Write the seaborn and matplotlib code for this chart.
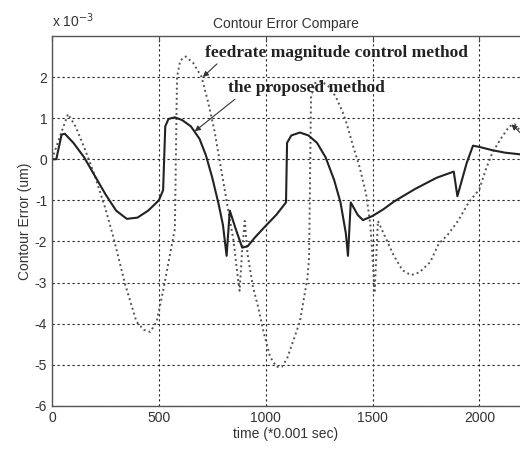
"""Contour error comparison: proposed method vs. feedrate magnitude control."""
import matplotlib
matplotlib.use("Agg")
import matplotlib.pyplot as plt
import matplotlib.ticker as mticker
import pandas as pd
import seaborn as sns

# proposed method (solid), time in ms, error in 1e-3 um
prop_t = [0, 20, 45, 60, 100, 150, 200, 250, 300, 350, 400, 450, 500, 520,
          530, 545, 575, 610, 650, 690, 720, 750, 780, 800, 817, 832, 860,
          890, 915, 950, 1000, 1050, 1095, 1100, 1120, 1160, 1200, 1240,
          1280, 1320, 1350, 1375, 1385, 1398, 1430, 1455, 1500, 1550, 1600,
          1700, 1800, 1880, 1897, 1940, 1970, 2000, 2060, 2120, 2190]
prop_err = [0, 0, 0.6, 0.62, 0.4, 0.05, -0.4, -0.85, -1.25, -1.45, -1.42,
            -1.25, -1.0, -0.75, 0.8, 0.98, 1.02, 0.95, 0.8, 0.5, 0.1, -0.45,
            -1.1, -1.6, -2.35, -1.25, -1.7, -2.15, -2.12, -1.9, -1.62, -1.35,
            -1.05, 0.4, 0.58, 0.65, 0.58, 0.4, 0.05, -0.5, -1.05, -1.8, -2.35,
            -1.05, -1.35, -1.48, -1.38, -1.22, -1.03, -0.72, -0.45, -0.3,
            -0.9, -0.1, 0.33, 0.3, 0.22, 0.16, 0.12]

# feedrate magnitude control method (dotted)
feed_t = [0, 40, 75, 110, 150, 200, 250, 290, 340, 395, 430, 460, 490, 520,
          560, 575, 585, 600, 625, 660, 700, 730, 760, 790, 820, 850, 870,
          878, 890, 902, 915, 940, 965, 990, 1020, 1050, 1075, 1100, 1130,
          1160, 1195, 1203, 1212, 1230, 1260, 1300, 1330, 1360, 1380, 1410,
          1440, 1470, 1490, 1500, 1510, 1525, 1560, 1600, 1640, 1680, 1720,
          1770, 1810, 1850, 1900, 1950, 2000, 2030, 2060, 2100, 2140, 2165,
          2190]
feed_err = [0, 0.6, 1.1, 0.8, 0.3, -0.4, -1.2, -1.95, -3.0, -3.95, -4.15,
            -4.2, -3.95, -3.2, -2.1, -1.7, 2.0, 2.4, 2.5, 2.35, 2.0, 1.4, 0.7,
            -0.2, -1.1, -2.0, -2.9, -3.2, -2.2, -1.5, -2.3, -3.1, -3.6, -4.2,
            -4.8, -5.05, -5.05, -4.85, -4.4, -3.95, -2.9, -2.4, 1.5, 1.85, 1.9,
            1.75, 1.5, 1.15, 0.85, 0.3, -0.2, -0.85, -1.6, -2.4, -3.2, -1.5,
            -1.9, -2.35, -2.7, -2.82, -2.75, -2.5, -2.05, -1.85, -1.5, -1.05,
            -0.73, -0.25, 0.15, 0.5, 0.8, 0.85, 0.7]

x_ticks = [0, 500, 1000, 1500, 2000]
y_ticks = [-6, -5, -4, -3, -2, -1, 0, 1, 2]

sns.set_style("white")
plt.rcParams["font.family"] = ["Liberation Sans", "DejaVu Sans"]
plt.rcParams["axes.unicode_minus"] = False

prop = pd.DataFrame({"t": prop_t, "err": prop_err})
feed = pd.DataFrame({"t": feed_t, "err": feed_err})

fig = plt.figure(figsize=(5.2, 4.55), dpi=100)
ax = fig.add_axes([0.1, 0.108, 0.9, 0.813])

sns.lineplot(data=feed, x="t", y="err", ax=ax, color="#555555",
             linestyle=(0, (1, 1.6)), linewidth=1.4, sort=False)
sns.lineplot(data=prop, x="t", y="err", ax=ax, color="#222222",
             linewidth=1.5, sort=False)

ax.set_xlim(0, 2190)
ax.set_ylim(-6, 3)
ax.set_xticks(x_ticks)
ax.set_yticks(y_ticks)
ax.yaxis.set_major_formatter(mticker.FuncFormatter(lambda v, _: f"{int(v)}"))
ax.grid(True, color="#222222", linestyle=(0, (2, 2.5)), linewidth=0.8)
ax.tick_params(direction="in", length=4, top=True, right=False,
               labelsize=10, labelcolor="#333333", color="#444444")
for side in ("left", "bottom", "top"):
    ax.spines[side].set_color("#555555")
    ax.spines[side].set_linewidth(1.0)
ax.spines["right"].set_visible(False)

ax.set_title("Contour Error Compare", fontsize=10, color="#333333", pad=6)
ax.set_xlabel("time (*0.001 sec)", fontsize=10, color="#333333", labelpad=2)
ax.set_ylabel("Contour Error (um)", fontsize=10, color="#333333", labelpad=2)
fig.text(0.1, 0.955, "x 10$^{-3}$", fontsize=10, color="#333333",
         ha="left", va="center")

# annotation labels and their pointer arrows
arrow = dict(arrowstyle="-|>", color="#333333", lw=0.8, mutation_scale=8,
             shrinkA=0, shrinkB=0)
ann_font = dict(family=["Liberation Serif"], fontweight="bold", fontsize=12.5,
                color="#222222")
ax.text(715, 2.58, "feedrate magnitude control method", va="center",
        ha="left", **ann_font)
ax.text(822, 1.74, "the proposed method", va="center", ha="left", **ann_font)
ax.annotate("", xy=(706, 2.0), xytext=(772, 2.32), arrowprops=arrow)
ax.annotate("", xy=(668, 0.68), xytext=(856, 1.46), arrowprops=arrow)
ax.annotate("", xy=(2150, 0.85), xytext=(2200, 0.6),
            arrowprops=arrow, annotation_clip=False)

fig.savefig("out.png", dpi=100)
